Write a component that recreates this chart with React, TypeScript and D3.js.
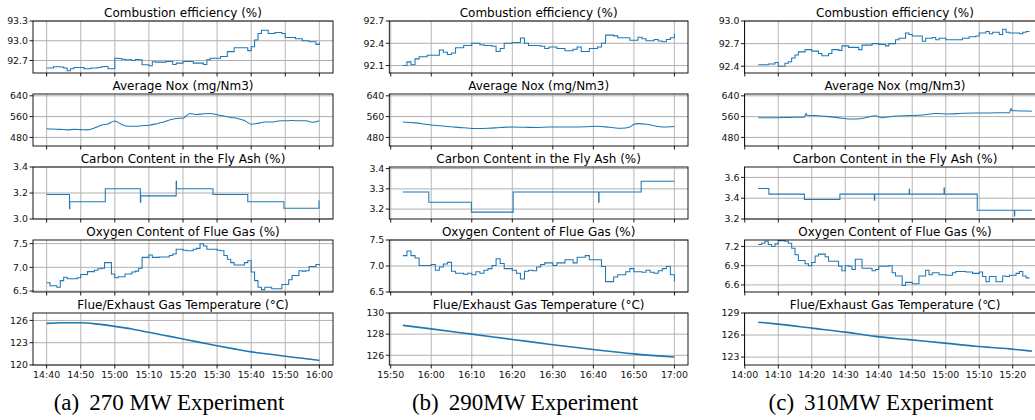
import React from "react";
import * as d3 from "d3";

// ---- (a) 270 MW, from 14:40, minutes offsets ----
const effA = [
  92.585, 92.585, 92.605, 92.605, 92.6, 92.585, 92.545, 92.575, 92.595, 92.595,
  92.595, 92.575, 92.575, 92.585, 92.585, 92.595, 92.605, 92.61, 92.575, 92.575,
  92.735, 92.73, 92.72, 92.71, 92.71, 92.7, 92.715, 92.71, 92.635, 92.635,
  92.62, 92.68, 92.675, 92.675, 92.675, 92.685, 92.685, 92.64, 92.66, 92.66,
  92.685, 92.685, 92.685, 92.66, 92.66, 92.66, 92.64, 92.71, 92.735, 92.735,
  92.735, 92.76, 92.76, 92.835, 92.835, 92.895, 92.895, 92.895, 92.895, 92.85,
  92.91, 93.01, 93.11, 93.16, 93.16, 93.11, 93.11, 93.125, 93.125, 93.11,
  93.05, 93.05, 93.05, 93.03, 93.03, 93.0, 93.0, 92.985, 92.985, 92.945,
  92.975,
];
const noxA = [
  513, 512, 511, 509, 511, 510, 509, 516, 527, 532,
  543, 530, 523, 523, 525, 527, 532, 538, 547, 553,
  554, 572, 568, 571, 572, 567, 562, 557, 553, 545,
  531, 534, 539, 539, 543, 544, 545, 544, 544, 538,
  544,
];
const carbonATimes = [0, 6.7, 6.8, 17.2, 27.5, 27.6, 38, 38.1, 48.8, 59, 69.6, 79.9, 80];
const carbonA = [3.188, 3.08, 3.133, 3.233, 3.13, 3.178, 3.29, 3.233, 3.188, 3.133, 3.083, 3.14, 3.14];
const oxyA = [
  6.674, 6.61, 6.61, 6.58, 6.72, 6.79, 6.76, 6.76, 6.76, 6.78,
  6.85, 6.85, 6.91, 6.91, 6.94, 6.97, 6.98, 7.1, 7.1, 6.86,
  6.78, 6.8, 6.8, 6.86, 6.86, 6.9, 6.92, 6.98, 7.21, 7.21,
  7.26, 7.21, 7.21, 7.22, 7.22, 7.22, 7.25, 7.28, 7.38, 7.38,
  7.36, 7.35, 7.35, 7.38, 7.4, 7.5, 7.45, 7.38, 7.38, 7.38,
  7.36, 7.35, 7.25, 7.17, 7.1, 7.05, 7.05, 7.05, 7.1, 7.14,
  6.9, 6.72, 6.58, 6.53, 6.58, 6.58, 6.55, 6.55, 6.55, 6.64,
  6.64, 6.74, 6.83, 6.83, 6.93, 6.92, 6.93, 7.02, 7.02, 7.06,
  7.04,
];
const tempATimes = [0, 5, 10, 15, 20, 25, 30, 35, 40, 45, 50, 55, 60, 65, 70, 75, 80];
const tempA = [125.6, 125.68, 125.68, 125.5, 125.2, 124.85, 124.4, 123.95, 123.5, 123.05, 122.6, 122.17, 121.77, 121.48, 121.17, 120.9, 120.62];

// ---- (b) 290 MW, from 15:53 ----
const effB = [
  92.1, 92.15, 92.11, 92.19, 92.22, 92.22, 92.24, 92.24, 92.24, 92.31,
  92.28, 92.25, 92.27, 92.34, 92.34, 92.37, 92.37, 92.4, 92.4, 92.38,
  92.37, 92.37, 92.36, 92.29, 92.33, 92.4, 92.4, 92.41, 92.41, 92.47,
  92.4, 92.37, 92.37, 92.37, 92.36, 92.33, 92.35, 92.35, 92.33, 92.33,
  92.3, 92.3, 92.32, 92.35, 92.29, 92.29, 92.33, 92.33, 92.35, 92.4,
  92.51, 92.51, 92.5, 92.475, 92.475, 92.475, 92.44, 92.44, 92.48, 92.46,
  92.435, 92.435, 92.45, 92.43, 92.42, 92.45, 92.475, 92.53,
];
const noxBTimes = [0, 3, 6, 9, 12, 15, 18, 21, 24, 27, 30, 33, 36, 39, 42, 45, 48, 51, 54, 56, 57, 58, 60, 62, 64, 67];
const noxB = [539, 536, 530, 525, 521, 517, 514, 515, 518, 520, 519, 518, 520, 520, 520, 521, 523, 519, 515, 520, 531, 533, 531, 525, 520, 522];
const carbonBTimes = [0, 6.4, 16.9, 27.2, 48.3, 48.4, 58.8, 67];
const carbonB = [3.284, 3.234, 3.185, 3.284, 3.234, 3.284, 3.338, 3.338];
const oxyB = [
  7.2, 7.29, 7.2, 7.155, 7.01, 7.01, 7.01, 7.03, 6.92, 6.98,
  7.04, 7.07, 6.9, 6.86, 6.86, 6.84, 6.86, 6.83, 6.89, 6.86,
  6.92, 6.95, 7.01, 7.14, 7.05, 6.95, 6.95, 6.92, 6.86, 6.75,
  6.9, 6.92, 6.91, 6.98, 7.03, 7.06, 7.06, 7.01, 7.06, 7.06,
  7.12, 7.12, 7.06, 7.17, 7.17, 7.2, 7.12, 7.12, 7.12, 6.99,
  6.7, 6.7, 6.79, 6.83, 6.83, 6.89, 6.95, 6.89, 6.89, 6.88,
  6.92, 6.88, 6.86, 6.91, 6.95, 6.99, 6.83, 6.7,
];
const tempBTimes = [0, 7, 17, 27, 37, 47, 57, 67];
const tempB = [128.83, 128.5, 128.0, 127.5, 127.0, 126.54, 126.13, 125.84];

// ---- (c) 310 MW, from 14:04 ----
const effC = [
  92.42, 92.42, 92.42, 92.43, 92.43, 92.45, 92.4, 92.4, 92.44, 92.46,
  92.51, 92.55, 92.59, 92.59, 92.62, 92.62, 92.6, 92.6, 92.57, 92.54,
  92.54, 92.57, 92.62, 92.62, 92.61, 92.67, 92.67, 92.65, 92.65, 92.65,
  92.62, 92.68, 92.68, 92.68, 92.7, 92.7, 92.69, 92.69, 92.67, 92.7,
  92.7, 92.75, 92.77, 92.77, 92.84, 92.82, 92.8, 92.8, 92.8, 92.73,
  92.77, 92.77, 92.78, 92.75, 92.77, 92.77, 92.75, 92.75, 92.75, 92.75,
  92.75, 92.77, 92.77, 92.79, 92.79, 92.8, 92.84, 92.84, 92.86, 92.83,
  92.85, 92.85, 92.82, 92.89, 92.85, 92.84, 92.84, 92.84, 92.83, 92.85,
  92.86, 92.86,
];
const noxCTimes = [0, 5.4, 9.4, 13.8, 14.3, 14.5, 17, 21, 25, 28, 31, 35, 37, 41, 45, 49, 53, 57, 61, 65, 69, 73, 75, 75.5, 75.7, 78, 81.7];
const noxC = [556, 556, 557, 558, 573, 565, 564, 560, 554, 551, 553, 563, 556, 562, 564, 566, 572, 570, 573, 574, 574, 575, 574, 592, 583, 582, 581];
const carbonCTimes = [0, 3.2, 13.8, 24.4, 34.7, 34.8, 45.1, 45.2, 55.5, 55.6, 65.4, 76.5, 76.6, 81.7];
const carbonC = [3.494, 3.439, 3.387, 3.439, 3.38, 3.439, 3.487, 3.439, 3.497, 3.439, 3.284, 3.23, 3.284, 3.284];
const oxyC = [
  7.23, 7.25, 7.28, 7.23, 7.2, 7.24, 7.29, 7.29, 7.28, 7.25,
  7.17, 7.07, 6.98, 6.98, 6.93, 6.9, 6.95, 7.05, 7.08, 7.08,
  7.04, 6.97, 6.97, 6.97, 6.89, 6.82, 6.9, 6.89, 6.84, 7.0,
  7.0, 6.86, 6.86, 6.86, 6.82, 6.84, 6.89, 6.89, 6.89, 6.9,
  6.79, 6.74, 6.74, 6.59, 6.64, 6.64, 6.62, 6.62, 6.74, 6.74,
  6.83, 6.76, 6.79, 6.79, 6.76, 6.76, 6.75, 6.75, 6.79, 6.81,
  6.81, 6.81, 6.8, 6.8, 6.78, 6.78, 6.8, 6.73, 6.65, 6.73,
  6.73, 6.65, 6.65, 6.74, 6.73, 6.75, 6.75, 6.78, 6.81, 6.74,
  6.71, 6.71,
];
const tempCTimes = [0, 6, 16, 26, 35, 45, 55, 65, 75, 81.7];
const tempC = [127.75, 127.48, 126.94, 126.4, 125.82, 125.37, 124.93, 124.48, 124.12, 123.81];

const rowTitles = [
  "Combustion efficiency (%)",
  "Average Nox (mg/Nm3)",
  "Carbon Content in the Fly Ash (%)",
  "Oxygen Content of Flue Gas (%)",
];
const tempTitles = ["Flue/Exhaust Gas Temperature (°C)", "Flue/Exhaust Gas Temperature (°C)", "Flue/Exhaust Gas Temperature (\u2103)"];

const everyMinute = (v: number[], step = 1) => v.map((_, i) => i * step);

const noxTicks = [480, 560, 640];
const noxDomain: [number, number] = [447, 647];

const columns = [
  {
    start: "14:40", span: 80, x0: 33, x1: 333, tag: "(a)", caption: "270 MW Experiment", capX: 169,
    rows: [
      { t: everyMinute(effA), v: effA, step: true, domain: [92.51, 93.3], ticks: [92.7, 93.0, 93.3], digits: 1 },
      { t: everyMinute(noxA, 2), v: noxA, step: false, domain: noxDomain, ticks: noxTicks, digits: 0 },
      { t: carbonATimes, v: carbonA, step: true, domain: [3.0, 3.4], ticks: [3.0, 3.2, 3.4], digits: 1 },
      { t: everyMinute(oxyA), v: oxyA, step: true, domain: [6.48, 7.577], ticks: [6.5, 7.0, 7.5], digits: 1 },
      { t: tempATimes, v: tempA, step: false, domain: [120, 127], ticks: [120, 123, 126], digits: 0 },
    ],
  },
  {
    start: "15:53", span: 67, x0: 389.3, x1: 688, tag: "(b)", caption: "290MW Experiment", capX: 525,
    rows: [
      { t: everyMinute(effB), v: effB, step: true, domain: [92.0, 92.7], ticks: [92.1, 92.4, 92.7], digits: 1 },
      { t: noxBTimes, v: noxB, step: false, domain: noxDomain, ticks: noxTicks, digits: 0 },
      { t: carbonBTimes, v: carbonB, step: true, domain: [3.151, 3.408], ticks: [3.2, 3.3, 3.4], digits: 1 },
      { t: everyMinute(oxyB), v: oxyB, step: true, domain: [6.5, 7.5], ticks: [6.5, 7.0, 7.5], digits: 1 },
      { t: tempBTimes, v: tempB, step: false, domain: [125.08, 130], ticks: [126, 128, 130], digits: 0 },
    ],
  },
  {
    start: "14:04", span: 81.7, x0: 744.5, x1: 1045.5, tag: "(c)", caption: "310MW Experiment", capX: 881,
    rows: [
      { t: everyMinute(effC), v: effC, step: true, domain: [92.31, 93.0], ticks: [92.4, 92.7, 93.0], digits: 1 },
      { t: noxCTimes, v: noxC, step: false, domain: noxDomain, ticks: noxTicks, digits: 0 },
      { t: carbonCTimes, v: carbonC, step: true, domain: [3.2, 3.7], ticks: [3.2, 3.4, 3.6], digits: 1 },
      { t: everyMinute(oxyC), v: oxyC, step: true, domain: [6.49, 7.3], ticks: [6.6, 6.9, 7.2], digits: 1 },
      { t: tempCTimes, v: tempC, step: false, domain: [121.92, 129], ticks: [123, 126, 129], digits: 0 },
    ],
  },
];

const rowTops = [21, 94, 167, 240, 313];
const PH = 52;
const tickFont = 9.4;
const parseHM = d3.timeParse("%H:%M");
const fmtHM = d3.timeFormat("%H:%M");

export default function App() {
  return (
    <svg
      width={1035}
      height={420}
      style={{ position: "absolute", left: 0, top: 0, background: "#fff" }}
      fontFamily="DejaVu Sans, sans-serif"
    >
      <rect width={1035} height={420} fill="#fff" />
      {columns.map((col, ci) => {
        const start = parseHM(col.start) as Date;
        const at = (m: number) => new Date(start.getTime() + m * 60000);
        const x = d3
          .scaleTime()
          .domain([at(-0.05 * col.span), at(1.05 * col.span)])
          .range([col.x0, col.x1]);
        const xTicks = x.ticks(d3.timeMinute.every(10) as d3.TimeInterval);
        const cx = (col.x0 + col.x1) / 2;
        return (
          <g key={ci}>
            {col.rows.map((s, ri) => {
              const top = rowTops[ri];
              const y = d3.scaleLinear().domain(s.domain).range([top + PH, top]);
              const line = d3
                .line<number>()
                .x((_, i) => x(at(s.t[i])))
                .y((d) => y(d))
                .curve(s.step ? d3.curveStepAfter : d3.curveMonotoneX);
              const clipId = `clip-${ci}-${ri}`;
              const title = ri < 4 ? rowTitles[ri] : tempTitles[ci];
              return (
                <g key={ri}>
                  <defs>
                    <clipPath id={clipId}>
                      <rect x={col.x0} y={top} width={col.x1 - col.x0} height={PH} />
                    </clipPath>
                  </defs>
                  {xTicks.map((d, k) => (
                    <line key={"gx" + k} x1={x(d)} x2={x(d)} y1={top} y2={top + PH} stroke="#bdbdbd" strokeWidth={1.1} />
                  ))}
                  {s.ticks.map((v, k) => (
                    <line key={"gy" + k} x1={col.x0} x2={col.x1} y1={y(v)} y2={y(v)} stroke="#b0b0b0" strokeWidth={1} />
                  ))}
                  <path
                    d={line(s.v) || ""}
                    fill="none"
                    stroke="#1f77b4"
                    strokeWidth={ri === 4 ? 1.6 : 1.05}
                    clipPath={`url(#${clipId})`}
                  />
                  <rect x={col.x0} y={top} width={col.x1 - col.x0} height={PH} fill="none" stroke="#000" strokeWidth={0.9} />
                  {s.ticks.map((v, k) => (
                    <g key={"ty" + k}>
                      <line x1={col.x0 - 3.5} x2={col.x0} y1={y(v)} y2={y(v)} stroke="#000" strokeWidth={0.9} />
                      <text x={col.x0 - 5} y={y(v)} dy="0.35em" textAnchor="end" fontSize={tickFont} fill="#111">
                        {v.toFixed(s.digits)}
                      </text>
                    </g>
                  ))}
                  {xTicks.map((d, k) => (
                    <line key={"tx" + k} x1={x(d)} x2={x(d)} y1={top + PH} y2={top + PH + 3.5} stroke="#000" strokeWidth={0.9} />
                  ))}
                  {ri === 4 &&
                    xTicks.map((d, k) => (
                      <text key={"lx" + k} x={x(d)} y={top + PH + 12.5} textAnchor="middle" fontSize={tickFont} fill="#111">
                        {fmtHM(d)}
                      </text>
                    ))}
                  <text x={cx} y={top - 4.5} textAnchor="middle" fontSize={12} fill="#000">
                    {title}
                  </text>
                </g>
              );
            })}
            <text
              x={col.capX}
              y={410}
              textAnchor="middle"
              fontSize={23}
              fontFamily="Liberation Serif, Times New Roman, serif"
              fill="#000"
            >
              {col.tag}
              <tspan dx={10}>{col.caption}</tspan>
            </text>
          </g>
        );
      })}
    </svg>
  );
}
